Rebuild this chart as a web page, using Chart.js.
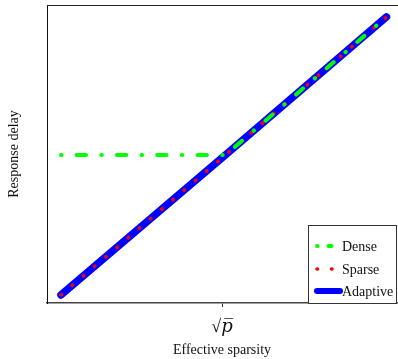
<!DOCTYPE html>
<html>
<head>
<meta charset="utf-8">
<script src="https://cdn.jsdelivr.net/npm/chart.js@4.4.0/dist/chart.umd.min.js"></script>
<style>
  html, body { margin: 0; padding: 0; background: #fff; }
  #wrap { width: 398px; height: 359px; }
</style>
</head>
<body>
<div id="wrap"><canvas id="delayChart"></canvas></div>
<script>
// values (axes run 0..1, no numbers shown)
const effSparsity = [0.04, 0.51, 0.97];
const denseDelay = [0.497, 0.497, 0.96];
const sparseDelay = [0.027, 0.497, 0.96];
const adaptiveDelay = [0.027, 0.497, 0.96];
const tickPositions = [0.5];
const tickLabels = ['√𝑝̅'];
const seriesNames = ['Dense', 'Sparse', 'Adaptive'];

const serif = "'Liberation Serif', 'DejaVu Serif', serif";

function toPoints(ys) {
    return effSparsity.map((x, i) => ({ x: x, y: ys[i] }));
}

// legend drawn inside the plot, lower right
const innerLegend = {
    id: 'innerLegend',
    afterDatasetsDraw(chart) {
        const ctx = chart.ctx;
        const a = chart.chartArea;
        const boxW = 89, boxH = 78;
        const bx = a.right - boxW, by = a.bottom - boxH;
        ctx.save();
        ctx.fillStyle = '#fff';
        ctx.fillRect(bx, by, boxW, boxH);
        ctx.strokeStyle = '#333';
        ctx.lineWidth = 1;
        ctx.strokeRect(bx + 0.5, by + 0.5, boxW - 1, boxH);
        const rows = [by + 21, by + 44, by + 66];
        chart.data.datasets.forEach((ds, i) => {
            const y = rows[i];
            ctx.strokeStyle = ds.borderColor;
            ctx.lineCap = 'round';
            ctx.lineWidth = i === 2 ? 6 : (i === 0 ? 4 : 3.5);
            if (i === 0) ctx.setLineDash([0.5, 11, 3, 20]);
            else if (i === 1) ctx.setLineDash([0.5, 14]);
            else ctx.setLineDash([]);
            ctx.beginPath();
            ctx.moveTo(bx + 9, y);
            ctx.lineTo(bx + 32, y);
            ctx.stroke();
            ctx.setLineDash([]);
            ctx.fillStyle = '#111';
            ctx.font = '14px ' + serif;
            ctx.textBaseline = 'middle';
            ctx.fillText(ds.label, bx + 34, y + 1);
        });
        ctx.restore();
    }
};

// top frame line
const topFrame = {
    id: 'topFrame',
    afterDraw(chart) {
        const ctx = chart.ctx;
        const a = chart.chartArea;
        ctx.save();
        ctx.strokeStyle = '#222';
        ctx.lineWidth = 1;
        ctx.beginPath();
        ctx.moveTo(a.left, a.top + 0.5);
        ctx.lineTo(chart.width, a.top + 0.5);
        ctx.stroke();
        ctx.restore();
    }
};

const chart = new Chart(document.getElementById('delayChart'), {
    type: 'line',
    data: {
        datasets: [
            {
                label: seriesNames[0],
                data: toPoints(denseDelay),
                borderColor: '#00ff00',
                borderWidth: 4,
                borderDash: [0.5, 15.1, 9.4, 15.3],
                borderCapStyle: 'round',
                pointRadius: 0,
                tension: 0
            },
            {
                label: seriesNames[1],
                data: toPoints(sparseDelay),
                borderColor: '#ff0000',
                borderWidth: 3.5,
                borderDash: [0.5, 14.2],
                borderCapStyle: 'round',
                pointRadius: 0,
                tension: 0
            },
            {
                label: seriesNames[2],
                data: toPoints(adaptiveDelay),
                borderColor: '#0000ff',
                borderWidth: 7.5,
                borderCapStyle: 'round',
                pointRadius: 0,
                tension: 0
            }
        ]
    },
    options: {
        responsive: true,
        maintainAspectRatio: false,
        animation: false,
        layout: { padding: { top: 5, right: 1 } },
        plugins: {
            legend: { display: false },
            tooltip: { enabled: false }
        },
        scales: {
            x: {
                type: 'linear',
                min: 0,
                max: 1,
                afterBuildTicks: (scale) => {
                    scale.ticks = tickPositions.map(v => ({ value: v }));
                },
                afterFit: (scale) => { scale.height = 56; },
                ticks: {
                    callback: (v) => tickLabels[tickPositions.indexOf(v)],
                    color: '#111',
                    font: { family: serif, size: 18 },
                    padding: 9,
                    maxRotation: 0
                },
                grid: {
                    drawOnChartArea: false,
                    drawTicks: true,
                    tickLength: 4,
                    color: '#333'
                },
                border: { display: true, color: '#444', width: 1.5 },
                title: {
                    display: true,
                    text: 'Effective sparsity',
                    color: '#111',
                    font: { family: serif, size: 14 },
                    padding: { top: 4, bottom: 0 }
                }
            },
            y: {
                type: 'linear',
                min: 0,
                max: 1,
                afterFit: (scale) => { scale.width = 47; },
                ticks: { display: false },
                grid: { display: false },
                border: { display: true, color: '#111', width: 1 },
                title: {
                    display: true,
                    text: 'Response delay',
                    color: '#111',
                    font: { family: serif, size: 14 },
                    padding: { top: 6, bottom: 18 }
                }
            }
        }
    },
    plugins: [innerLegend, topFrame]
});
</script>
</body>
</html>
